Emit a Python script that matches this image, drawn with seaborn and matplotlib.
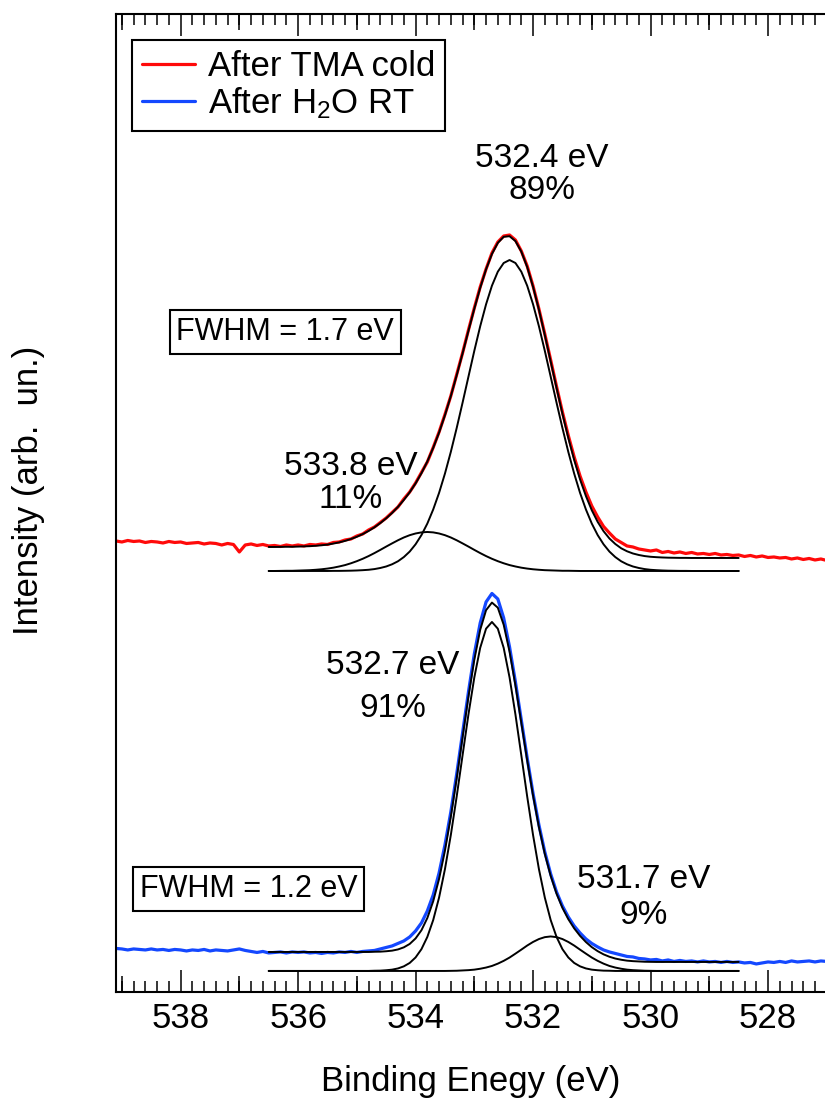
import numpy as np
import pandas as pd
import matplotlib
matplotlib.use('Agg')
import matplotlib.pyplot as plt
from matplotlib.ticker import MultipleLocator
import seaborn as sns

# ── Data ──────────────────────────────────────────────────────
# binding energy grids in eV, high -> low as plotted
BE_DATA = np.round(np.linspace(539.1, 527.0, 122), 2)
BE_FIT  = np.round(np.linspace(536.5, 528.5, 81), 2)

# measured spectra (arb. un.)
tma_data = [
    45.1, 45.0, 45.15, 45.05, 45.1, 44.95, 45.05, 45.0, 44.9, 45.05,
    44.95, 45.0, 44.85, 44.9, 44.95, 44.8, 44.9, 44.85, 44.7, 44.85,
    44.75, 44.0, 44.7, 44.8, 44.65, 44.75, 44.6, 44.65, 44.55, 44.7,
    44.6, 44.7, 44.6, 44.75, 44.7, 44.8, 44.75, 44.95, 45.0, 45.2,
    45.3, 45.6, 45.8, 46.2, 46.5, 46.95, 47.4, 47.95, 48.5, 49.3,
    50.0, 50.9, 51.95, 53.0, 54.45, 56.0, 57.75, 59.6, 61.75, 63.9,
    66.2, 68.4, 70.5, 72.3, 73.9, 75.0, 75.6, 75.7, 75.2, 74.1,
    72.6, 70.6, 68.3, 65.8, 63.2, 60.55, 58.0, 55.65, 53.5, 51.6,
    50.0, 48.6, 47.5, 46.55, 45.9, 45.3, 44.95, 44.6, 44.5, 44.3,
    44.2, 44.1, 44.2, 43.95, 44.05, 43.9, 44.0, 43.85, 43.95, 43.8,
    43.85, 43.75, 43.85, 43.7, 43.75, 43.65, 43.7, 43.55, 43.65, 43.5,
    43.6, 43.45, 43.5, 43.4, 43.45, 43.3, 43.4, 43.25, 43.35, 43.2,
    43.3, 43.15,
]
h2o_data = [
    4.35, 4.3, 4.2, 4.3, 4.25, 4.2, 4.3, 4.2, 4.25, 4.15,
    4.25, 4.2, 4.1, 4.2, 4.15, 4.25, 4.1, 4.2, 4.15, 4.1,
    4.2, 4.3, 4.15, 4.05, 3.95, 4.05, 3.9, 3.95, 4.0, 3.9,
    4.0, 3.95, 4.0, 3.9, 3.95, 3.85, 3.95, 3.9, 4.0, 3.95,
    4.05, 3.95, 4.05, 4.1, 4.15, 4.3, 4.45, 4.6, 4.85, 5.1,
    5.5, 6.1, 6.9, 8.1, 9.7, 11.9, 14.7, 18.0, 21.8, 25.9,
    30.0, 33.8, 36.9, 39.0, 39.85, 39.3, 37.4, 34.5, 31.0, 27.2,
    23.4, 19.85, 16.7, 14.0, 11.8, 10.0, 8.6, 7.5, 6.6, 5.9,
    5.3, 4.85, 4.5, 4.2, 4.0, 3.85, 3.7, 3.55, 3.5, 3.35,
    3.3, 3.2, 3.25, 3.1, 3.2, 3.05, 3.15, 3.05, 3.1, 3.0,
    3.1, 3.0, 3.05, 2.95, 3.05, 2.95, 3.0, 2.9, 2.95, 2.8,
    2.9, 3.0, 2.95, 3.05, 2.95, 3.1, 3.0, 3.05, 3.1, 3.0,
    3.1, 3.05,
]

# fit, after TMA cold: components are heights above the fit baseline
tma_base = 42.1
tma_main = [   # 532.4 eV, 89 %
    0, 0, 0, 0, 0, 0, 0, 0, 0, 0,
    0, 0.01, 0.01, 0.02, 0.03, 0.05, 0.08, 0.12, 0.19, 0.30,
    0.45, 0.67, 0.97, 1.39, 1.94, 2.67, 3.59, 4.74, 6.15, 7.81,
    9.74, 11.91, 14.30, 16.83, 19.43, 22.02, 24.47, 26.67, 28.53, 29.93,
    30.80, 31.10, 30.80, 29.93, 28.53, 26.67, 24.47, 22.02, 19.43, 16.83,
    14.30, 11.91, 9.74, 7.81, 6.15, 4.74, 3.59, 2.67, 1.94, 1.39,
    0.97, 0.67, 0.45, 0.30, 0.19, 0.12, 0.08, 0.05, 0.03, 0.02,
    0.01, 0.01, 0, 0, 0, 0, 0, 0, 0, 0,
    0,
]
tma_minor = [  # 533.8 eV, 11 %
    0, 0, 0.01, 0.02, 0.02, 0.04, 0.06, 0.08, 0.12, 0.17,
    0.24, 0.33, 0.45, 0.59, 0.77, 0.98, 1.22, 1.49, 1.79, 2.11,
    2.44, 2.76, 3.07, 3.35, 3.58, 3.75, 3.86, 3.90, 3.86, 3.75,
    3.58, 3.35, 3.07, 2.76, 2.44, 2.11, 1.79, 1.49, 1.22, 0.98,
    0.77, 0.59, 0.45, 0.33, 0.24, 0.17, 0.12, 0.08, 0.06, 0.04,
    0.02, 0.02, 0.01, 0, 0, 0, 0, 0, 0, 0,
    0, 0, 0, 0, 0, 0, 0, 0, 0, 0,
    0, 0, 0, 0, 0, 0, 0, 0, 0, 0,
    0,
]
tma_env = [    # fit envelope incl. background
    44.50, 44.50, 44.51, 44.52, 44.52, 44.54, 44.56, 44.58, 44.62, 44.67,
    44.74, 44.84, 44.96, 45.11, 45.30, 45.52, 45.79, 46.10, 46.47, 46.89,
    47.37, 47.90, 48.51, 49.20, 49.97, 50.86, 51.88, 53.05, 54.41, 55.94,
    57.68, 59.59, 61.67, 63.86, 66.11, 68.33, 70.41, 72.27, 73.80, 74.91,
    75.52, 75.58, 75.09, 74.04, 72.50, 70.52, 68.23, 65.70, 63.05, 60.40,
    57.82, 55.41, 53.21, 51.26, 49.59, 48.17, 47.01, 46.08, 45.35, 44.80,
    44.37, 44.07, 43.85, 43.70, 43.59, 43.52, 43.48, 43.45, 43.43, 43.42,
    43.41, 43.41, 43.40, 43.40, 43.40, 43.40, 43.40, 43.40, 43.40, 43.40,
    43.40,
]

# fit, after H2O RT
h2o_base = 2.1
h2o_main = [   # 532.7 eV, 91 %
    0, 0, 0, 0, 0, 0, 0, 0, 0, 0,
    0, 0, 0, 0, 0, 0, 0, 0, 0.02, 0.03,
    0.07, 0.13, 0.25, 0.46, 0.80, 1.35, 2.18, 3.40, 5.09, 7.34,
    10.18, 13.59, 17.45, 21.57, 25.65, 29.35, 32.31, 34.23, 34.90, 34.23,
    32.31, 29.35, 25.65, 21.57, 17.45, 13.59, 10.18, 7.34, 5.09, 3.40,
    2.18, 1.35, 0.80, 0.46, 0.25, 0.13, 0.07, 0.03, 0.02, 0,
    0, 0, 0, 0, 0, 0, 0, 0, 0, 0,
    0, 0, 0, 0, 0, 0, 0, 0, 0, 0,
    0,
]
h2o_minor = [  # 531.7 eV, 9 %
    0, 0, 0, 0, 0, 0, 0, 0, 0, 0,
    0, 0, 0, 0, 0, 0, 0, 0, 0, 0,
    0, 0, 0, 0, 0, 0, 0, 0, 0, 0,
    0, 0.01, 0.02, 0.05, 0.08, 0.13, 0.22, 0.34, 0.50, 0.73,
    1.01, 1.34, 1.73, 2.13, 2.54, 2.90, 3.19, 3.38, 3.45, 3.38,
    3.19, 2.90, 2.54, 2.13, 1.73, 1.34, 1.01, 0.73, 0.50, 0.34,
    0.22, 0.13, 0.08, 0.05, 0.02, 0.01, 0, 0, 0, 0,
    0, 0, 0, 0, 0, 0, 0, 0, 0, 0,
    0,
]
h2o_env = [
    4.00, 4.00, 4.00, 4.00, 4.00, 4.00, 4.00, 4.00, 4.00, 4.00,
    4.00, 4.00, 4.00, 4.00, 4.00, 4.00, 4.00, 4.00, 4.02, 4.03,
    4.07, 4.13, 4.25, 4.46, 4.80, 5.35, 6.17, 7.39, 9.07, 11.30,
    14.13, 17.52, 21.36, 25.47, 29.53, 33.23, 36.21, 38.18, 38.94, 38.43,
    36.72, 34.03, 30.66, 26.92, 23.17, 19.63, 16.48, 13.81, 11.61, 9.83,
    8.41, 7.28, 6.36, 5.61, 4.99, 4.48, 4.08, 3.76, 3.52, 3.34,
    3.22, 3.13, 3.08, 3.05, 3.02, 3.01, 3.00, 3.00, 3.00, 3.00,
    3.00, 3.00, 3.00, 3.00, 3.00, 3.00, 3.00, 3.00, 3.00, 3.00,
    3.00,
]

LABELS   = ['After TMA cold', r'After H$_{\rm 2}$O RT']
PEAKS    = [('532.4 eV', '89%'), ('533.8 eV', '11%'),
            ('532.7 eV', '91%'), ('531.7 eV', '9%')]
FWHM_TXT = ['FWHM = 1.7 eV', 'FWHM = 1.2 eV']

RED, BLUE = '#ff0a0a', '#1448ff'

# ── Style ─────────────────────────────────────────────────────
sns.set_style('white')
plt.rcParams['font.family'] = ['Liberation Sans', 'DejaVu Sans']
plt.rcParams['mathtext.fontset'] = 'custom'
plt.rcParams['mathtext.rm'] = 'Liberation Sans'
plt.rcParams['mathtext.it'] = 'Liberation Sans:italic'
plt.rcParams['text.color'] = 'black'
plt.rcParams['axes.labelcolor'] = 'black'
plt.rcParams['xtick.color'] = 'black'
plt.rcParams['ytick.color'] = 'black'

df  = pd.DataFrame({'be': BE_DATA, 'tma': tma_data, 'h2o': h2o_data})
fit = pd.DataFrame({'be': BE_FIT,
                    'tma_main': tma_base + np.array(tma_main),
                    'tma_minor': tma_base + np.array(tma_minor),
                    'tma_env': tma_env,
                    'h2o_main': h2o_base + np.array(h2o_main),
                    'h2o_minor': h2o_base + np.array(h2o_minor),
                    'h2o_env': h2o_env})

fig = plt.figure(figsize=(8.25, 11.04), dpi=100)
ax = fig.add_axes([0.1406, 0.1015, 0.8594, 0.8858])

sns.lineplot(data=df, x='be', y='tma', color=RED, lw=2.3, ax=ax,
             label=LABELS[0], sort=False, estimator=None)
sns.lineplot(data=df, x='be', y='h2o', color=BLUE, lw=2.3, ax=ax,
             label=LABELS[1], sort=False, estimator=None)
for col in ['tma_main', 'tma_minor', 'tma_env', 'h2o_main', 'h2o_minor', 'h2o_env']:
    sns.lineplot(data=fit, x='be', y=col, color='black', lw=1.4, ax=ax,
                 sort=False, estimator=None, legend=False)

ax.set_xlim(539.10, 527.03)
ax.set_ylim(0, 97.8)

# ── Axes / ticks ──────────────────────────────────────────────
for s in ['left', 'top', 'bottom']:
    ax.spines[s].set_linewidth(1.5)
    ax.spines[s].set_color('black')
ax.spines['right'].set_visible(False)
ax.set_yticks([])

ax.xaxis.set_major_locator(MultipleLocator(2))
ax.xaxis.set_minor_locator(MultipleLocator(0.2))
ax.tick_params(axis='x', which='major', direction='in', length=16, width=1.1,
               top=True, bottom=True, labelsize=25, pad=7, colors='black')
ax.tick_params(axis='x', which='minor', direction='in', length=8, width=1.1,
               top=True, bottom=True, colors='black')
for loc in ['bottom', 'top']:
    sec = ax.secondary_xaxis(loc)
    sec.xaxis.set_major_locator(MultipleLocator(2, offset=1))
    sec.tick_params(axis='x', direction='in', length=11.5, width=1.1,
                    colors='black', labelbottom=False, labeltop=False)
    for s in sec.spines.values():
        s.set_visible(False)

ax.set_xlabel('Binding Enegy (eV)', fontsize=25, labelpad=22, color='black')
ax.set_ylabel('Intensity (arb.  un.)', fontsize=25, color='black')
ax.yaxis.set_label_coords(-0.100, 0.513)

leg = ax.legend(loc='upper left', bbox_to_anchor=(0.0221, 0.9734),
                borderaxespad=0, fontsize=25, frameon=True, fancybox=False,
                edgecolor='black', framealpha=1, handlelength=1.52,
                handletextpad=0.37, borderpad=0.3, labelspacing=0.05)
leg.get_frame().set_linewidth(1.5)
for t in leg.get_texts():
    t.set_color('black')

# peak labels
pk_pos = [(531.85, 83.4, 80.2), (535.10, 52.5, 49.2),
          (534.39, 32.6, 28.3), (530.12, 11.2, 7.6)]
for (e, pct), (x, y1, y2) in zip(PEAKS, pk_pos):
    ax.text(x, y1, e, fontsize=24, ha='center', va='center', color='black')
    ax.text(x, y2, pct, fontsize=24, ha='center', va='center', color='black')

box = dict(boxstyle='square,pad=0.22', fc='white', ec='black', lw=1.5)
for txt, (x, y) in zip(FWHM_TXT, [(536.22, 66.0), (536.84, 10.3)]):
    ax.text(x, y, txt, fontsize=22, ha='center', va='center', bbox=box,
            color='black')

fig.savefig('out.png', dpi=100)
plt.close(fig)
